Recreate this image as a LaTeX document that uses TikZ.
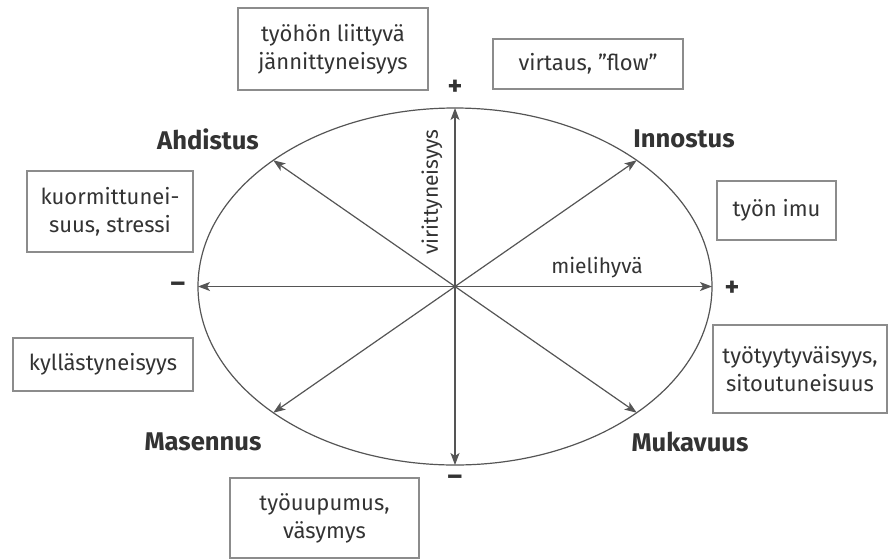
\documentclass[tikz,border=0pt]{standalone}
\usepackage{fontspec}
\setmainfont{Fira Sans}
\usetikzlibrary{arrows.meta}
\definecolor{linegray}{HTML}{555555}
\definecolor{boxgray}{HTML}{8c8c8c}
\definecolor{textgray}{HTML}{333333}

\tikzset{
  axisarrow/.style={draw=linegray, line width=0.6pt, -{Stealth[length=6pt,width=4.5pt,inset=1.5pt]}},
  infobox/.style={draw=boxgray, line width=0.6pt, align=center, text=textgray, inner sep=0pt,
    font=\fontsize{11}{14}\selectfont},
  moodlabel/.style={text=textgray, font=\bfseries\fontsize{12.8}{14}\selectfont},
  signlabel/.style={text=textgray, font=\bfseries\fontsize{14}{14}\selectfont},
  axislabel/.style={text=textgray, font=\fontsize{10.5}{13}\selectfont},
}

\begin{document}
\begin{tikzpicture}[x=0.5pt,y=-0.5pt]
                    \useasboundingbox (0,0) rectangle (889,558);
                    \coordinate (center) at (455,286.5);
                    \def\xradius{257}
                    \def\yradius{178.5}

                    \draw[linegray, line width=0.6pt] (center) ellipse [x radius=\xradius, y radius=\yradius]; % mood circle

                    \coordinate (east) at (712,286.5);
                    \coordinate (west) at (198,286.5);
                    \coordinate (north) at (455,108);
                    \coordinate (south) at (455,465);
                    \coordinate (northeast) at (636.7,160.3);
                    \coordinate (northwest) at (273.3,160.3);
                    \coordinate (southwest) at (273.3,412.7);
                    \coordinate (southeast) at (636.7,412.7);

                    \draw[axisarrow] (center) -- (east);
                    \draw[axisarrow] (center) -- (west);
                    \draw[axisarrow] (center) -- (north);
                    \draw[axisarrow] (center) -- (south);
                    \draw[axisarrow] (center) -- (northeast);
                    \draw[axisarrow] (center) -- (northwest);
                    \draw[axisarrow] (center) -- (southwest);
                    \draw[axisarrow] (center) -- (southeast);

                    \node[axislabel, rotate=90] (arousal) at (432,192) {virittyneisyys};
                    \node[axislabel] (pleasure) at (597,268) {mielihyvä};

                    \node[signlabel] (plustop) at (455,88) {+};
                    \node[signlabel] (plusright) at (732,289) {+};
                    \node[signlabel] (minusleft) at (178,287) {–};
                    \node[signlabel] (minusbottom) at (455,480) {–};

                    \node[moodlabel] (anxiety) at (208,139) {Ahdistus};
                    \node[moodlabel] (enthusiasm) at (684,139) {Innostus};
                    \node[moodlabel] (depression) at (203,442) {Masennus};
                    \node[moodlabel] (comfort) at (690,442) {Mukavuus};

                    % work related states
                    \node[infobox, minimum width=95pt, minimum height=41pt] (strain) at (333,49)
                        {työhön liittyvä\\jännittyneisyys};
                    \node[infobox, minimum width=95pt, minimum height=25pt] (flow) at (588,64)
                        {virtaus, ”flow”};
                    \node[infobox, minimum width=83pt, minimum height=40.5pt] (stress) at (110,211.5)
                        {kuormittunei-\\suus, stressi};
                    \node[infobox, minimum width=59.5pt, minimum height=29.5pt] (engagement) at (776.5,210.5)
                        {työn imu};
                    \node[infobox, minimum width=90pt, minimum height=26.5pt] (boredom) at (103,364.5)
                        {kyllästyneisyys};
                    \node[infobox, minimum width=87pt, minimum height=44pt] (satisfaction) at (800,369)
                        {työtyytyväisyys,\\sitoutuneisuus};
                    \node[infobox, minimum width=94.5pt, minimum height=40pt] (burnout) at (324.5,518)
                        {työuupumus,\\väsymys};
                \end{tikzpicture}
\end{document}
